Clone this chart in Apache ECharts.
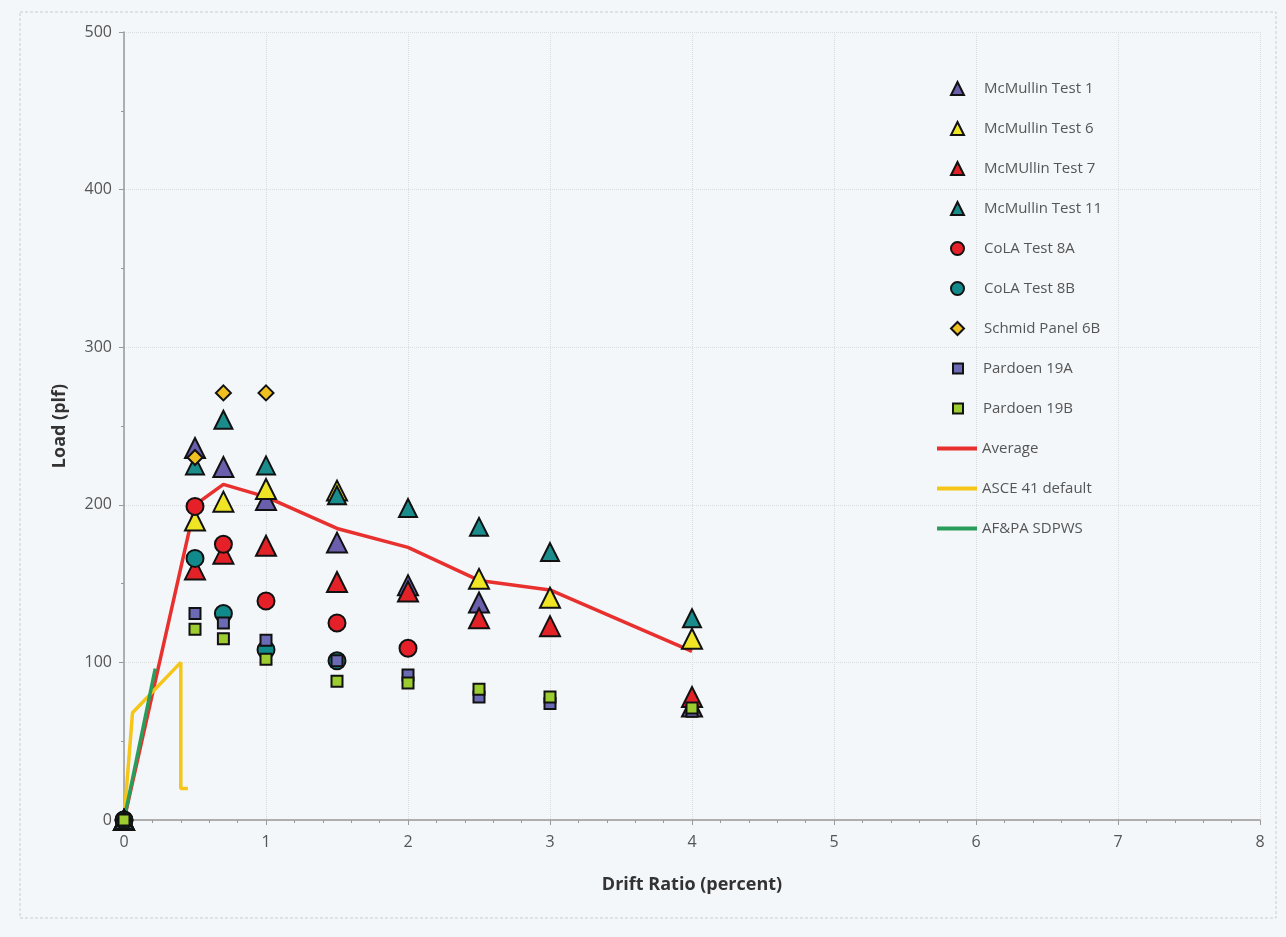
<!DOCTYPE html>
<html>
<head>
<meta charset="utf-8">
<script src="https://cdn.jsdelivr.net/npm/echarts@6/dist/echarts.min.js"></script>
<style>
html,body{margin:0;padding:0;background:#f4f7fa;}
#c{width:1286px;height:937px;}
</style>
</head>
<body>
<div id="c"></div>
<script>
// Data (x = drift ratio %, y = load plf)
const mcmullin1 = [[0,0],[0.5,236],[0.7,224],[1,203],[1.5,176],[2,149],[2.5,138],[4,72]];
const mcmullin6 = [[0,0],[0.5,190],[0.7,202],[1,210],[1.5,209],[2.5,153],[3,141],[4,115]];
const mcmullin7 = [[0,0],[0.5,159],[0.7,169],[1,174],[1.5,151],[2,145],[2.5,128],[3,123],[4,78]];
const mcmullin11 = [[0,0],[0.5,225],[0.7,254],[1,225],[1.5,206],[2,198],[2.5,186],[3,170],[4,128]];
const cola8A = [[0,0],[0.5,199],[0.7,175],[1,139],[1.5,125],[2,109]];
const cola8B = [[0,0],[0.5,166],[0.7,131],[1,108],[1.5,101]];
const schmid6B = [[0,0],[0.5,230],[0.7,271],[1,271]];
const pardoen19A = [[0,0],[0.5,131],[0.7,125],[1,114],[1.5,101],[2,92],[2.5,78],[3,74],[4,69]];
const pardoen19B = [[0,0],[0.5,121],[0.7,115],[1,102],[1.5,88],[2,87],[2.5,83],[3,78],[4,71]];
const average = [[0,0],[0.5,200],[0.7,213],[1,205],[1.5,185],[2,173],[2.5,152],[3,146],[4,107]];
const asce41 = [[0,0],[0.06,68],[0.4,100],[0.4,20],[0.45,20]];
const afpa = [[0,0],[0.22,96]];
const markerNames = ['McMullin Test 1','McMullin Test 6','McMUllin Test 7','McMullin Test 11','CoLA Test 8A','CoLA Test 8B','Schmid Panel 6B'];
const squareNames = ['Pardoen 19A','Pardoen 19B'];
const lineNames = ['Average','ASCE 41 default','AF&PA SDPWS'];

const chart = echarts.init(document.getElementById('c'));
function sc(name, data, symbol, size, color){
  return {name:name, type:'scatter', data:data, symbol:symbol, symbolSize:size, z:3,
    itemStyle:{color:color, borderColor:'#111', borderWidth:2, opacity:1}};
}
function ln(name, data, color){
  return {name:name, type:'line', data:data, symbol:'none', z:2,
    lineStyle:{color:color, width:3.5}, itemStyle:{color:color}};
}
const legText = {fontFamily:'Open Sans', fontSize:15, color:'#555', lineHeight:14};
const option = {
  backgroundColor:'#f4f7fa',
  animation:false,
  graphic:[{type:'rect', shape:{x:20,y:12,width:1256,height:906},
    style:{fill:'none', stroke:'#c8ccd0', lineWidth:1, lineDash:[3,2]}}],
  grid:{left:124, top:32, width:1136, height:788},
  xAxis:{type:'value', min:0, max:8, interval:1,
    name:'Drift Ratio (percent)', nameLocation:'middle', nameGap:56,
    nameTextStyle:{fontFamily:'Open Sans', fontWeight:'bold', fontSize:18, color:'#333'},
    axisLine:{show:true, lineStyle:{color:'#999', width:1.5}},
    axisTick:{show:true, length:5, lineStyle:{color:'#999'}},
    minorTick:{show:true, splitNumber:5, length:3, lineStyle:{color:'#999'}},
    axisLabel:{fontFamily:'Open Sans', fontSize:16, color:'#555', margin:14},
    splitLine:{show:true, lineStyle:{color:'#dcdcdc', type:'dotted'}}},
  yAxis:{type:'value', min:0, max:500, interval:100,
    name:'Load (plf)', nameLocation:'middle', nameGap:55,
    nameTextStyle:{fontFamily:'Open Sans', fontWeight:'bold', fontSize:18, color:'#333'},
    axisLine:{show:true, lineStyle:{color:'#999', width:1.5}},
    axisTick:{show:true, length:5, lineStyle:{color:'#999'}},
    minorTick:{show:true, splitNumber:2, length:3, lineStyle:{color:'#999'}},
    axisLabel:{fontFamily:'Open Sans', fontSize:16, color:'#555', margin:12},
    splitLine:{show:true, lineStyle:{color:'#dcdcdc', type:'dotted'}}},
  legend:[
    {data:markerNames, orient:'vertical', left:945, top:76, itemWidth:13, itemHeight:13, itemGap:25,
     textStyle:Object.assign({padding:[0,0,0,15]}, legText)},
    {data:squareNames, orient:'vertical', left:947, top:356, itemWidth:10, itemHeight:10, itemGap:25,
     textStyle:Object.assign({padding:[0,0,0,15]}, legText)},
    {data:lineNames.map(n=>({name:n, icon:'rect'})), orient:'vertical', left:932, top:436, itemWidth:40, itemHeight:4, itemGap:25,
     textStyle:legText}
  ],
  series:[
    ln('Average', average, '#e8302e'),
    ln('ASCE 41 default', asce41, '#f5c518'),
    ln('AF&PA SDPWS', afpa, '#2a9d5a'),
    sc('McMullin Test 1', mcmullin1, 'triangle', 20, '#6a5fad'),
    sc('McMullin Test 6', mcmullin6, 'triangle', 20, '#efe524'),
    sc('McMUllin Test 7', mcmullin7, 'triangle', 20, '#e32227'),
    sc('McMullin Test 11', mcmullin11, 'triangle', 18, '#1a8c8c'),
    sc('CoLA Test 8A', cola8A, 'circle', 17, '#e52028'),
    sc('CoLA Test 8B', cola8B, 'circle', 17, '#108a8a'),
    sc('Schmid Panel 6B', schmid6B, 'diamond', 15, '#f0c020'),
    sc('Pardoen 19A', pardoen19A, 'rect', 11, '#6b6bb5'),
    sc('Pardoen 19B', pardoen19B, 'rect', 11, '#9ccc30')
  ]
};
chart.setOption(option);
</script>
</body>
</html>
